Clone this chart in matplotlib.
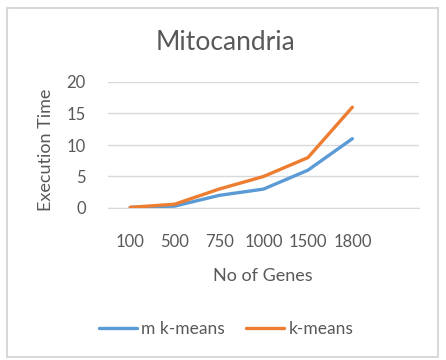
import matplotlib
matplotlib.use("Agg")
import matplotlib.pyplot as plt
from matplotlib.patches import Rectangle

categories = ["100", "500", "750", "1000", "1500", "1800"]
m_kmeans = [0.1, 0.3, 2, 3, 6, 11]
kmeans = [0.1, 0.6, 3, 5, 8, 16]
y_ticks = [0, 5, 10, 15, 20]

plt.rcParams['font.family'] = ['Lato', 'DejaVu Sans']
txt = '#595959'
W, H = 446, 360
fig = plt.figure(figsize=(W/100, H/100), dpi=100)
fig.patch.set_facecolor('white')

# outer border
fig.patches.append(Rectangle((7/W, 1-357/H), (438-7)/W, (357-8)/H, transform=fig.transFigure,
                             fill=False, edgecolor='#D9D9D9', linewidth=1.5))

ax = fig.add_axes([108/W, 1-208/H, 311/W, 126/H])
x = list(range(len(categories)))
ax.plot(x, m_kmeans, color='#5B9BD5', linewidth=2.4, solid_capstyle='round', label='m k-means', zorder=3)
ax.plot(x, kmeans, color='#ED7D31', linewidth=2.4, solid_capstyle='round', label='k-means', zorder=3)
ax.set_xlim(-0.5, 6.5)
ax.set_ylim(0, 20)
ax.set_yticks(y_ticks)
ax.set_xticks(x)
ax.set_xticklabels(categories)
ax.grid(axis='y', color='#D9D9D9', linewidth=1)
ax.set_axisbelow(True)
for s in ['top', 'right', 'left']:
    ax.spines[s].set_visible(False)
ax.spines['bottom'].set_color('#D9D9D9')
ax.tick_params(axis='both', length=0, labelcolor=txt, labelsize=12)
ax.tick_params(axis='x', pad=19)
ax.tick_params(axis='y', pad=16)

fig.text(226/W, 1-42/H, 'Mitocandria', ha='center', va='center', fontsize=19, color=txt)
fig.text(263/W, 1-276/H, 'No of Genes', ha='center', va='center', fontsize=13, color=txt)
fig.text(46/W, 1-150/H, 'Execution Time', ha='center', va='center', rotation=90, fontsize=13, color=txt)

fig.legend(loc='center', bbox_to_anchor=(226/W, 1-329/H), ncol=2, frameon=False,
           fontsize=12.5, labelcolor=txt, handlelength=2.2, handletextpad=0.25, columnspacing=1.2)

fig.savefig('out.png', dpi=100, facecolor='white')
